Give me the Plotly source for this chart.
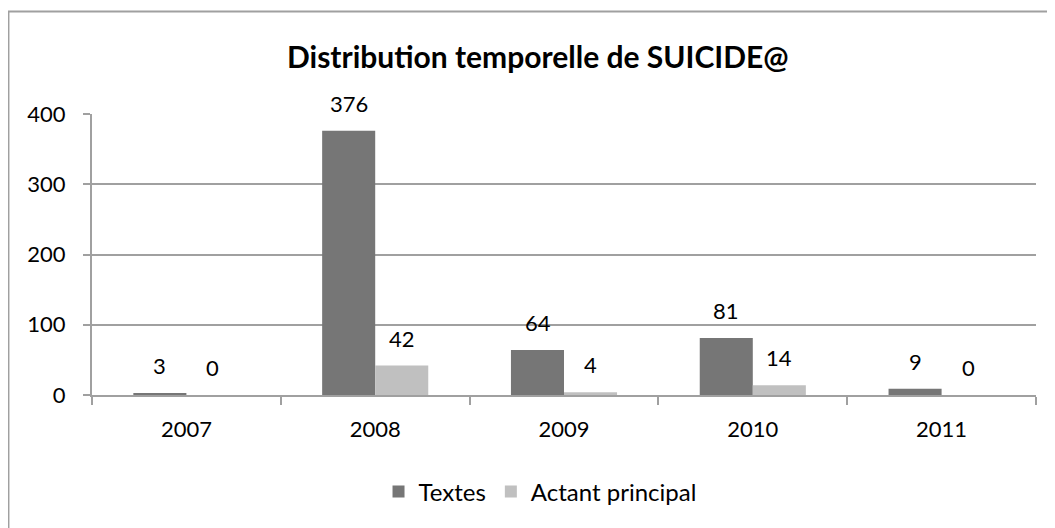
import plotly.graph_objects as go

years = ["2007", "2008", "2009", "2010", "2011"]
textes = [3, 376, 64, 81, 9]
actant = [0, 42, 4, 14, 0]
series_names = ["Textes", "Actant principal"]
y_ticks = [0, 100, 200, 300, 400]

DARK = "#767676"
LIGHT = "#c0c0c0"
GRID = "#a0a0a0"
FONT = "Lato"

fig = go.Figure()
fig.add_trace(go.Bar(x=years, y=textes, name=series_names[0], marker=dict(color=DARK, line=dict(width=0))))
fig.add_trace(go.Bar(x=years, y=actant, name=series_names[1], marker=dict(color=LIGHT, line=dict(width=0))))

annotations = []
for vals, shift in ((textes, -26.5), (actant, 26.5)):
    for i, v in enumerate(vals):
        annotations.append(dict(x=i, y=v, xref="x", yref="y", text=str(v), showarrow=False,
                                xshift=shift, yshift=12, yanchor="bottom",
                                font=dict(family=FONT, size=22, color="#000")))

fig.update_layout(
    width=1047, height=520,
    margin=dict(l=84, r=19, t=106, b=133),
    paper_bgcolor="white", plot_bgcolor="white",
    barmode="group", bargap=0.438, bargroupgap=0,
    title=dict(text="<b>Distribution temporelle de SUICIDE@</b>", x=0.506, xanchor="center",
               y=1 - 49 / 520, yanchor="middle", yref="container",
               font=dict(family=FONT, size=30, color="#000")),
    legend=dict(orientation="h", x=0.4746, xanchor="center", y=-0.345, yanchor="middle",
                font=dict(family=FONT, size=24, color="#000"), itemwidth=30),
    annotations=annotations,
    shapes=[dict(type="rect", xref="paper", yref="paper", x0=-0.0885, x1=1.2, y0=-0.7, y1=1.365,
                 line=dict(color=GRID, width=2), fillcolor="rgba(0,0,0,0)", layer="below")],
)
fig.update_xaxes(type="category", range=[-0.5, len(years) - 0.5], showline=True, linecolor=GRID, linewidth=2,
                 ticks="outside", tickson="boundaries", ticklen=8, tickcolor=GRID, tickwidth=2,
                 ticklabelstandoff=14,
                 tickfont=dict(family=FONT, size=22, color="#000"), showgrid=False)
fig.update_yaxes(range=[0, 400], tickvals=y_ticks, showline=True, linecolor=GRID, linewidth=2,
                 ticks="outside", ticklen=7, tickcolor=GRID, tickwidth=2, ticklabelstandoff=13,
                 showgrid=True, gridcolor=GRID, gridwidth=2, zeroline=False,
                 tickfont=dict(family=FONT, size=22, color="#000"))

fig.write_html("out.html")
